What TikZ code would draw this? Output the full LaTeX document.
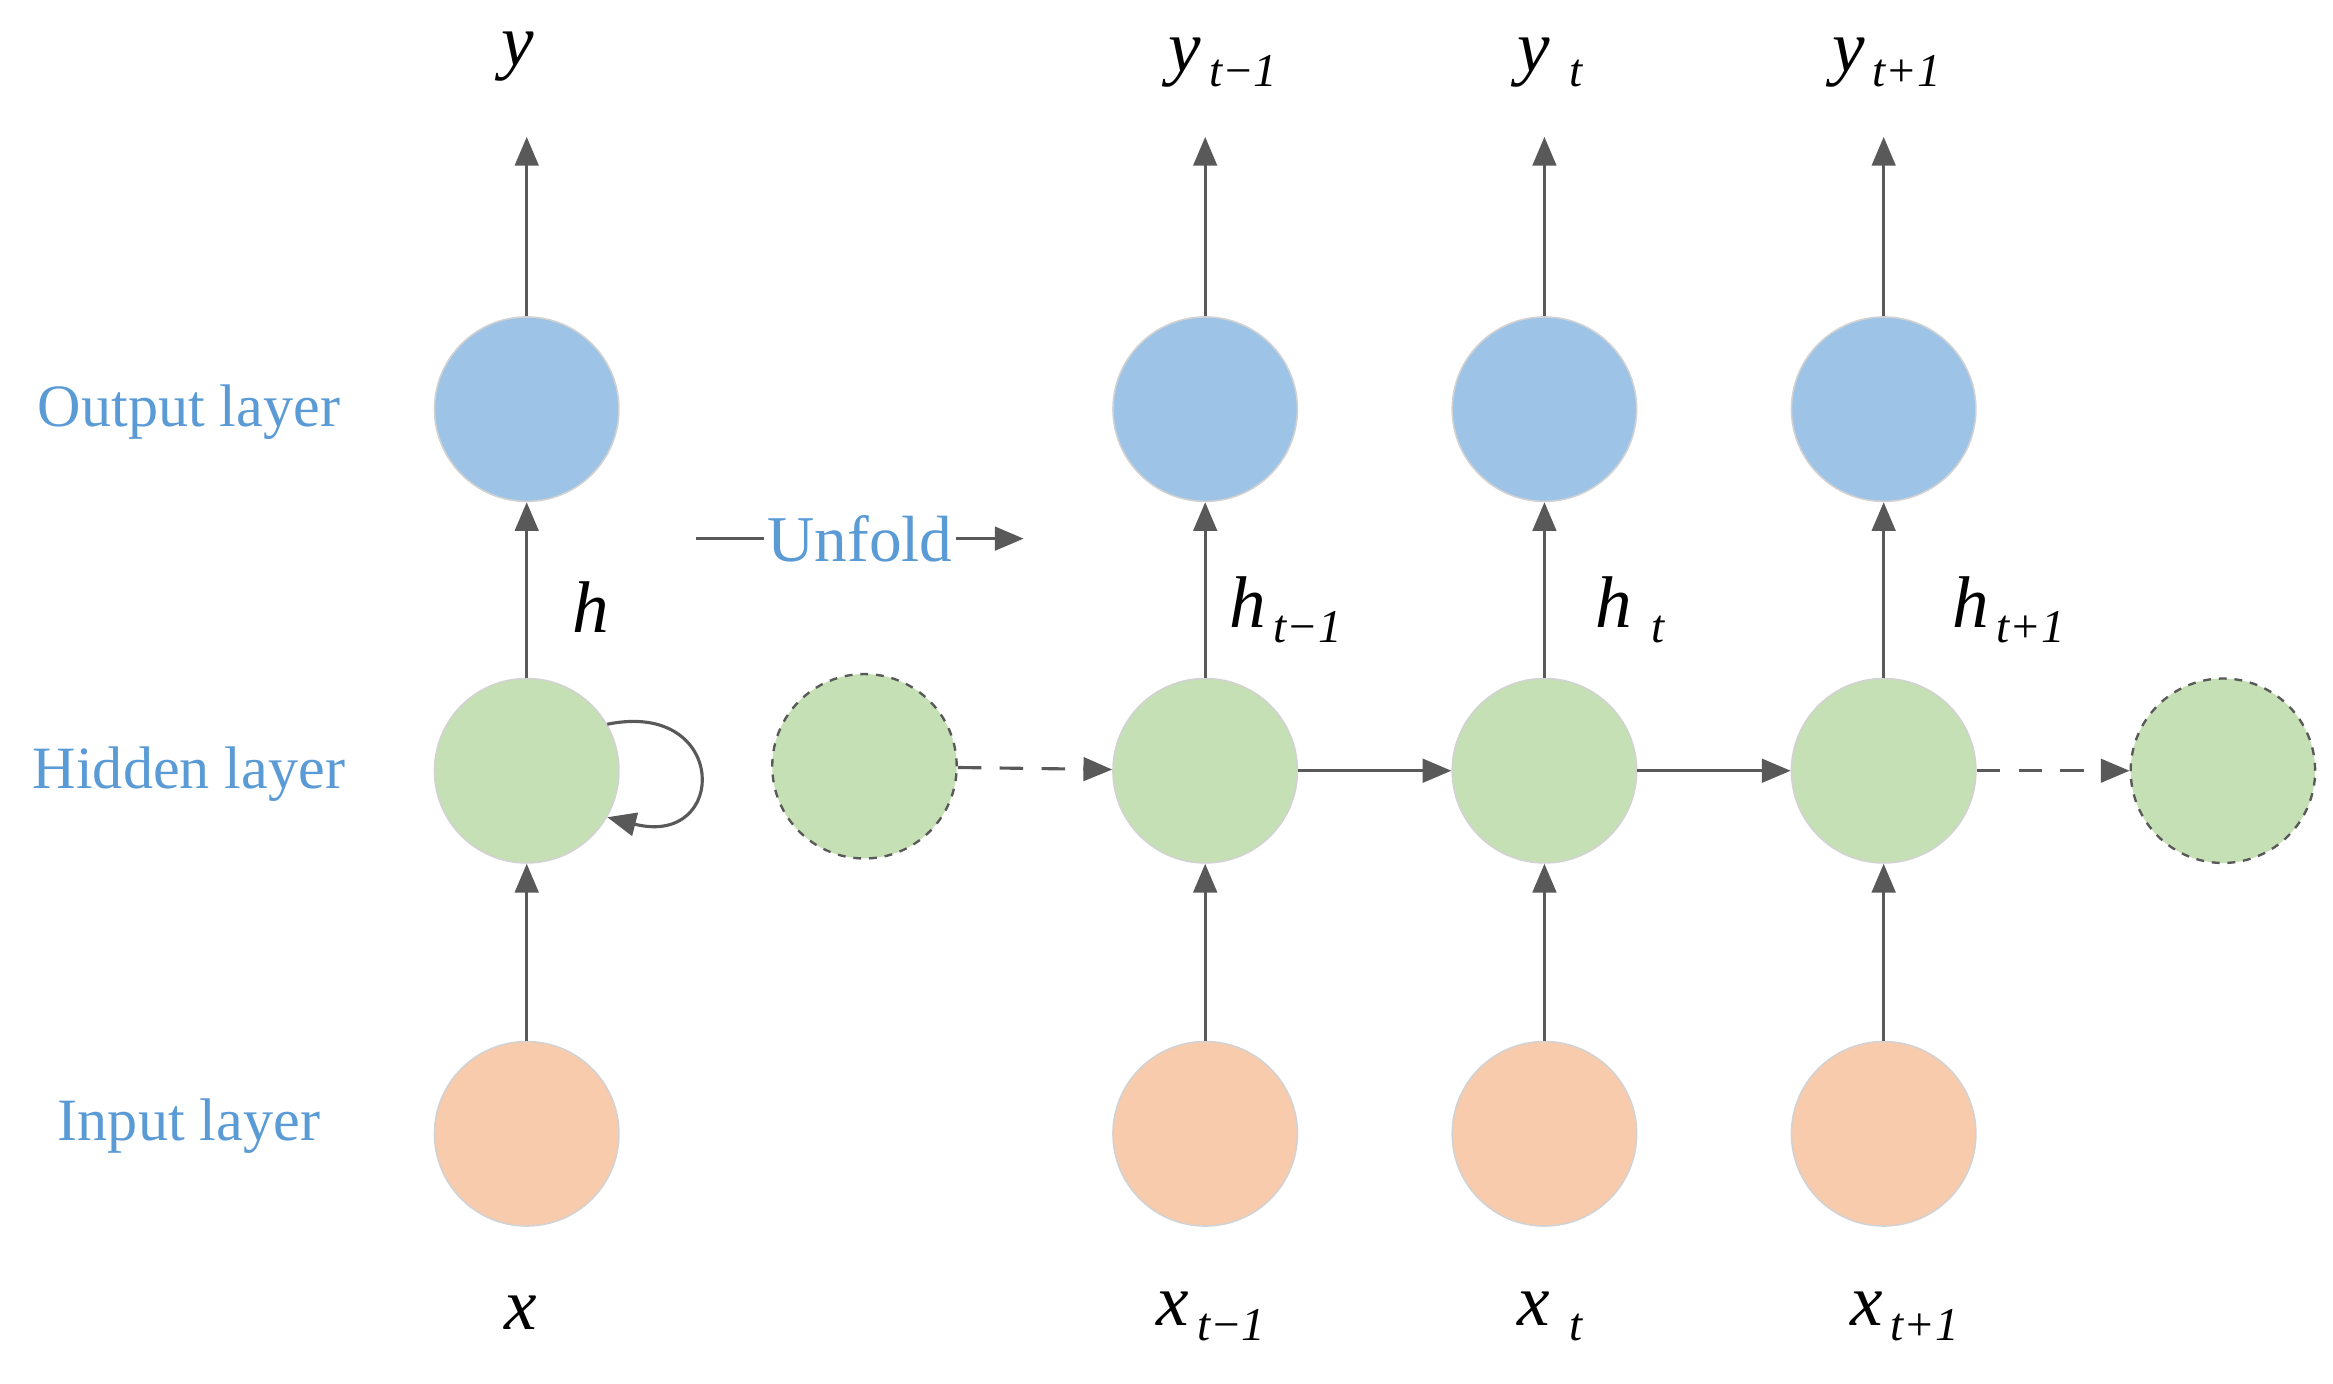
\documentclass[tikz,border=0pt]{standalone}
\usepackage{fontspec}
\setmainfont{Liberation Serif}
\usetikzlibrary{arrows.meta}
\definecolor{lblue}{RGB}{91,155,213}
\definecolor{ob}{RGB}{157,195,230}
\definecolor{hg}{RGB}{197,224,180}
\definecolor{io}{RGB}{248,203,173}
\definecolor{ar}{RGB}{89,89,89}
\newcommand{\mysub}[2]{\textit{#1}\raisebox{-0.45ex}{\fontsize{18}{20}\selectfont\,\textit{#2}}}
\begin{document}
\begin{tikzpicture}[x=0.02cm,y=-0.02cm,
  neur/.style={circle,minimum size=2.48cm,inner sep=0pt,draw=gray!35,line width=0.6pt},
  outn/.style={neur,fill=ob}, hidn/.style={neur,fill=hg}, inpn/.style={neur,fill=io},
  ghost/.style={neur,fill=hg,draw=ar,dashed,line width=0.9pt},
  arr/.style={draw=ar,line width=1.2pt,-{Triangle[length=11pt,width=9pt]}},
  darr/.style={arr,dash pattern=on 9pt off 7pt},
  lay/.style={text=lblue,font=\fontsize{23}{26}\selectfont},
  sym/.style={font=\fontsize{28}{30}\selectfont}]
\useasboundingbox (0,0) rectangle (1568,930);
\node[lay] at (127,277) {Output layer};
\node[lay] at (127,520) {Hidden layer};
\node[lay] at (127,757) {Input layer};
% folded
\node[outn] (o0) at (354,275) {};
\node[hidn] (h0) at (354,518) {};
\node[inpn] (i0) at (354,762) {};
\node[sym] (y0) at (348,38) {\textit{y}};
\node[sym] (x0) at (350,882) {\textit{x}};
\node[sym] at (397,408) {\textit{h}};
\coordinate (ty0) at (354,92);
\draw[arr] (o0) -- (ty0);
\draw[arr] (h0) -- (o0);
\draw[arr] (i0) -- (h0);
\draw[arr] (h0.30) .. controls (490,470) and (490,570) .. (h0.-30);
% unfold
\node[text=lblue,font=\fontsize{25}{28}\selectfont,inner sep=1pt] (uf) at (578,362) {Unfold};
\coordinate (u1) at (468,362); \coordinate (u2) at (688,362);
\draw[draw=ar,line width=1.2pt] (u1) -- (uf.west);
\draw[arr] (uf.east) -- (u2);
% unfolded
\node[ghost] (g0) at (581,515) {};
\node[ghost] (g1) at (1494,518) {};
\foreach \n/\x in {a/810,b/1038,c/1266}{
  \node[outn] (o\n) at (\x,275) {};
  \node[hidn] (h\n) at (\x,518) {};
  \node[inpn] (i\n) at (\x,762) {};
  \coordinate (ty\n) at (\x,92);
  \draw[arr] (o\n) -- (ty\n);
  \draw[arr] (h\n) -- (o\n);
  \draw[arr] (i\n) -- (h\n);
}
\node[sym] at (822,42) {\mysub{y}{t−1}};
\node[sym] at (1042,42) {\mysub{y}{\ t}};
\node[sym] at (1268,42) {\mysub{y}{t+1}};
\node[sym] at (864,410) {\mysub{h}{t−1}};
\node[sym] at (1096,410) {\mysub{h}{\ t}};
\node[sym] at (1350,410) {\mysub{h}{t+1}};
\node[sym] at (814,885) {\mysub{x}{t−1}};
\node[sym] at (1042,885) {\mysub{x}{\ t}};
\node[sym] at (1280,885) {\mysub{x}{t+1}};
\draw[darr] (g0) -- (ha);
\draw[arr] (ha) -- (hb);
\draw[arr] (hb) -- (hc);
\draw[darr] (hc) -- (g1);
\end{tikzpicture}
\end{document}
